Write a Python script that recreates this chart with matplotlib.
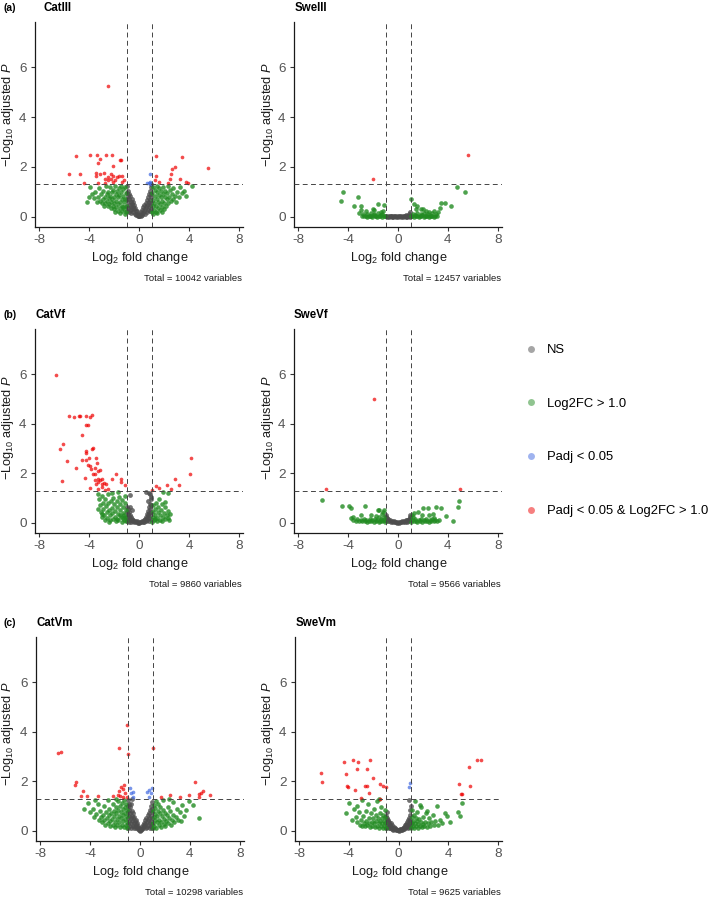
import numpy as np
import matplotlib
matplotlib.use('Agg')
import matplotlib.pyplot as plt
from matplotlib.lines import Line2D

plt.rcParams['font.family'] = 'Liberation Sans'
plt.rcParams['mathtext.fontset'] = 'custom'
plt.rcParams['mathtext.rm'] = 'Liberation Sans'
plt.rcParams['mathtext.it'] = 'Liberation Sans:italic'
plt.rcParams['axes.unicode_minus'] = False

# ---- data (log2 fold change, -log10 adjusted p) ----

# CatIII
catiii_ns = [(-0.98, 1.22), (-0.95, 0.95), (-0.97, 0.7), (-0.96, 0.45), (-0.94, 0.25), (-0.9, 1.05),
             (-0.88, 0.82), (-0.86, 0.58), (-0.85, 0.35), (-0.83, 0.18), (-0.8, 0.92), (-0.78, 0.7),
             (-0.75, 0.48), (-0.73, 0.28), (-0.7, 0.82), (-0.68, 0.6), (-0.65, 0.4), (-0.62, 0.16),
             (-0.6, 0.7), (-0.57, 0.5), (-0.55, 0.3), (-0.5, 0.58), (-0.48, 0.4), (-0.45, 0.2),
             (-0.42, 0.48), (-0.38, 0.3), (-0.35, 0.12), (-0.32, 0.36), (-0.28, 0.22), (-0.25, 0.08),
             (-0.2, 0.22), (-0.16, 0.1), (-0.12, 0.04), (-0.08, 0.08), (-0.04, 0.02),
             (0.02, 0.03), (0.06, 0.06), (0.1, 0.1), (0.14, 0.04), (0.18, 0.18), (0.22, 0.09),
             (0.26, 0.28), (0.3, 0.15), (0.34, 0.38), (0.38, 0.22), (0.42, 0.46), (0.46, 0.3),
             (0.5, 0.12), (0.53, 0.55), (0.56, 0.38), (0.6, 0.2), (0.62, 0.66), (0.66, 0.48),
             (0.7, 0.28), (0.72, 0.78), (0.76, 0.58), (0.79, 0.38), (0.82, 0.9), (0.84, 0.68),
             (0.87, 0.46), (0.89, 0.22), (0.91, 1.05), (0.93, 0.8), (0.95, 0.56), (0.97, 0.32),
             (0.98, 1.2), (0.96, 1.3), (0.99, 0.9)]
catiii_fc = [(-1.05, 0.2), (-1.08, 0.45), (-1.1, 0.7), (-1.06, 0.95), (-1.12, 1.2), (-1.2, 0.3),
             (-1.22, 0.58), (-1.25, 0.85), (-1.28, 1.1), (-1.35, 0.22), (-1.38, 0.45), (-1.4, 0.72),
             (-1.42, 0.98), (-1.45, 1.25), (-1.52, 0.35), (-1.55, 0.6), (-1.58, 0.88), (-1.6, 1.15),
             (-1.68, 0.25), (-1.7, 0.5), (-1.72, 0.78), (-1.75, 1.02), (-1.82, 0.4), (-1.85, 0.65),
             (-1.88, 0.92), (-1.9, 1.22), (-1.98, 0.3), (-2.0, 0.55), (-2.02, 0.8), (-2.05, 1.08),
             (-2.12, 0.45), (-2.15, 0.7), (-2.18, 0.98), (-2.25, 0.35), (-2.28, 0.6), (-2.3, 0.85),
             (-2.33, 1.18), (-2.4, 0.5), (-2.42, 0.75), (-2.45, 1.0), (-2.52, 0.42), (-2.55, 0.65),
             (-2.6, 0.9), (-2.62, 1.25), (-2.7, 0.55), (-2.72, 0.8), (-2.8, 0.45), (-2.85, 1.05),
             (-2.9, 0.7), (-3.0, 0.55), (-3.05, 0.9), (-3.15, 0.65), (-3.2, 1.15), (-3.3, 0.8),
             (-3.4, 0.6), (-3.5, 1.0), (-3.6, 0.75), (-3.75, 0.9), (-3.9, 1.2), (-4.0, 0.8),
             (-4.2, 0.6), (-1.15, 0.12), (-1.5, 0.15), (-1.9, 0.18), (-1.3, 0.4),
             (1.05, 0.18), (1.08, 0.42), (1.1, 0.68), (1.06, 0.95), (1.12, 1.2), (1.2, 0.28),
             (1.22, 0.55), (1.25, 0.82), (1.28, 1.08), (1.35, 0.2), (1.38, 0.45), (1.4, 0.7),
             (1.42, 0.98), (1.45, 1.25), (1.52, 0.35), (1.55, 0.6), (1.58, 0.88), (1.6, 1.15),
             (1.68, 0.28), (1.7, 0.5), (1.72, 0.78), (1.75, 1.02), (1.82, 0.4), (1.85, 0.65),
             (1.88, 0.92), (1.92, 1.2), (1.98, 0.3), (2.0, 0.55), (2.05, 0.8), (2.1, 1.05),
             (2.15, 0.45), (2.2, 0.7), (2.25, 0.95), (2.3, 1.25), (2.35, 0.55), (2.4, 0.8),
             (2.48, 1.08), (2.55, 0.62), (2.6, 0.9), (2.7, 0.7), (2.75, 1.15), (2.85, 0.85),
             (2.95, 0.6), (3.05, 1.0), (3.2, 0.8), (3.3, 1.2), (3.45, 0.95), (3.6, 1.05),
             (3.75, 0.85), (4.2, 1.22), (1.15, 0.1), (1.45, 0.14), (1.8, 0.2)]
catiii_p = [(0.9, 1.71), (0.64, 1.37), (0.78, 1.34), (0.92, 1.32), (0.85, 1.4)]
catiii_both = [(-2.51, 5.25), (-5.02, 2.44), (-3.9, 2.47), (-3.36, 2.47), (-2.62, 2.47), (-2.14, 2.47),
               (-3.09, 2.3), (-3.3, 2.14), (-1.54, 2.29), (-1.45, 2.29), (-2.08, 2.05), (-5.6, 1.73),
               (-4.7, 1.73), (-3.42, 1.76), (-3.42, 1.63), (-3.09, 1.72), (-2.82, 1.75), (-2.45, 1.6),
               (-2.24, 1.7), (-2.05, 1.62), (-1.8, 1.58), (-2.7, 1.5), (-2.5, 1.47), (-2.28, 1.53),
               (-1.9, 1.47), (-1.6, 1.64), (-1.33, 1.62), (-1.2, 1.48), (-4.4, 1.34), (-3.3, 1.34),
               (-2.75, 1.34), (-2.1, 1.4), (-1.4, 1.4),
               (1.34, 2.44), (3.42, 2.41), (2.88, 1.98), (2.61, 1.91), (2.56, 1.73), (5.5, 1.94),
               (1.39, 1.64), (1.28, 1.47), (1.6, 1.38), (2.5, 1.5), (3.3, 1.51), (3.73, 1.38),
               (3.9, 1.34), (2.3, 1.34)]

# SweIII
sweiii_ns = [(-0.98, 0.04), (-0.9, 0.01), (-0.82, 0.03), (-0.75, 0.0), (-0.68, 0.02), (-0.6, 0.04),
             (-0.52, 0.01), (-0.45, 0.03), (-0.38, 0.0), (-0.3, 0.02), (-0.22, 0.04), (-0.15, 0.01),
             (-0.08, 0.03), (0.0, 0.0), (0.08, 0.02), (0.15, 0.04), (0.22, 0.01), (0.3, 0.03),
             (0.38, 0.0), (0.45, 0.02), (0.52, 0.04), (0.6, 0.01), (0.68, 0.03), (0.75, 0.0),
             (0.82, 0.02), (0.9, 0.04), (0.97, 0.01), (0.88, 0.12), (0.95, 0.2), (0.6, 0.08)]
sweiii_fc = [(-1.05, 0.02), (-1.15, 0.05), (-1.25, 0.01), (-1.35, 0.06), (-1.45, 0.02), (-1.55, 0.04),
             (-1.65, 0.0), (-1.75, 0.05), (-1.85, 0.02), (-1.95, 0.06), (-2.05, 0.01), (-2.15, 0.04),
             (-2.25, 0.02), (-2.35, 0.05), (-2.45, 0.01), (-2.6, 0.03), (-2.75, 0.02), (-2.9, 0.04),
             (-1.3, 0.12), (-1.6, 0.14), (-1.9, 0.1), (-2.2, 0.16), (-2.5, 0.12), (-2.83, 0.13),
             (-2.6, 0.22), (-1.9, 0.27), (-2.0, 0.3), (-1.64, 0.51), (-1.16, 0.47), (-3.0, 0.44),
             (-3.49, 0.44), (-3.23, 0.78), (-4.42, 0.98), (-4.55, 0.63), (-1.4, 0.2), (-1.2, 0.25),
             (-3.0, 0.27), (-3.1, 0.15),
             (1.05, 0.02), (1.15, 0.05), (1.25, 0.01), (1.35, 0.06), (1.45, 0.02), (1.55, 0.04),
             (1.65, 0.0), (1.75, 0.05), (1.85, 0.02), (1.95, 0.06), (2.05, 0.01), (2.15, 0.04),
             (2.25, 0.02), (2.35, 0.05), (2.45, 0.01), (2.55, 0.04), (2.65, 0.02), (2.75, 0.05),
             (2.85, 0.01), (2.95, 0.03), (3.1, 0.02), (1.2, 0.12), (1.5, 0.15), (1.8, 0.1),
             (2.1, 0.14), (2.4, 0.12), (2.7, 0.16), (3.0, 0.12), (1.27, 0.51), (1.55, 0.42),
             (1.8, 0.3), (2.2, 0.22), (2.5, 0.2), (2.9, 0.25), (3.2, 0.2), (3.33, 0.37),
             (3.47, 0.56), (3.78, 0.56), (4.23, 0.43), (4.7, 1.18), (5.36, 0.98), (1.02, 0.72),
             (1.4, 0.3), (2.0, 0.3)]
sweiii_p = []
sweiii_both = [(-2.01, 1.51), (5.58, 2.48)]

# CatVf
catvf_ns = [(-0.98, 0.65), (-0.96, 0.45), (-0.97, 0.25), (-0.95, 0.08), (-0.9, 0.55), (-0.88, 0.35),
            (-0.86, 0.15), (-0.82, 0.42), (-0.8, 0.22), (-0.78, 0.05), (-0.74, 0.3), (-0.7, 0.12),
            (-0.66, 0.22), (-0.62, 0.04), (-0.58, 0.15), (-0.52, 0.08), (-0.46, 0.12), (-0.4, 0.03),
            (-0.33, 0.08), (-0.26, 0.02), (-0.2, 0.06), (-0.12, 0.01), (-0.05, 0.04), (0.03, 0.01),
            (0.1, 0.05), (0.17, 0.02), (0.24, 0.07), (0.3, 0.03), (0.36, 0.1), (0.42, 0.05),
            (0.47, 0.16), (0.52, 0.08), (0.56, 0.25), (0.6, 0.12), (0.64, 0.35), (0.67, 0.2),
            (0.7, 0.48), (0.73, 0.3), (0.76, 0.08), (0.78, 0.62), (0.8, 0.4), (0.83, 0.18),
            (0.85, 0.78), (0.87, 0.55), (0.9, 0.3), (0.92, 0.95), (0.94, 0.7), (0.96, 0.45),
            (0.97, 0.15), (0.98, 1.05), (0.9, 1.15), (0.75, 0.9), (0.8, 1.22), (0.56, 1.23),
            (-0.72, 1.12), (-0.6, 0.5), (-0.75, 0.62)]
catvf_fc = [(-1.05, 0.06), (-1.1, 0.25), (-1.08, 0.5), (-1.12, 0.8), (-1.15, 1.1), (-1.22, 0.12),
            (-1.25, 0.38), (-1.3, 0.65), (-1.35, 0.92), (-1.4, 0.05), (-1.45, 0.22), (-1.5, 0.5),
            (-1.55, 0.78), (-1.6, 1.05), (-1.65, 0.12), (-1.7, 0.35), (-1.75, 0.62), (-1.8, 0.9),
            (-1.85, 0.08), (-1.9, 0.25), (-1.95, 0.48), (-2.0, 0.75), (-2.05, 1.02), (-2.1, 0.15),
            (-2.15, 0.38), (-2.2, 0.6), (-2.25, 0.88), (-2.3, 0.1), (-2.35, 0.3), (-2.4, 0.52),
            (-2.45, 0.8), (-2.5, 1.15), (-2.55, 0.2), (-2.6, 0.42), (-2.65, 0.68), (-2.7, 0.95),
            (-2.75, 0.12), (-2.8, 0.3), (-2.85, 0.55), (-2.9, 0.82), (-2.95, 1.1), (-3.0, 0.22),
            (-3.05, 0.45), (-3.1, 0.7), (-3.2, 0.95), (-3.3, 1.16), (-3.25, 0.55), (-3.0, 0.36),
            (-2.2, 1.22), (-1.7, 1.25), (-1.2, 0.3), (-1.5, 0.3), (-1.8, 0.15), (-2.4, 0.05),
            (-1.3, 0.2),
            (1.05, 0.05), (1.1, 0.22), (1.08, 0.45), (1.12, 0.7), (1.2, 0.1), (1.25, 0.32),
            (1.3, 0.55), (1.35, 0.8), (1.4, 0.06), (1.45, 0.2), (1.5, 0.42), (1.55, 0.65),
            (1.65, 0.12), (1.7, 0.3), (1.75, 0.52), (1.8, 0.78), (1.85, 0.08), (1.9, 0.22),
            (1.98, 0.4), (2.05, 0.62), (2.1, 0.15), (2.2, 0.3), (2.28, 0.49), (2.35, 0.2),
            (2.44, 0.35), (2.4, 0.1), (1.89, 1.23), (2.31, 1.19), (1.6, 0.95), (2.1, 0.85),
            (1.3, 0.15)]
catvf_p = []
catvf_both = [(-6.67, 5.97), (-5.61, 4.32), (-5.24, 4.27), (-4.81, 4.29), (-4.76, 4.32), (-4.23, 4.33),
              (-3.96, 4.27), (-3.75, 4.36), (-4.28, 3.94), (-4.07, 3.94), (-4.54, 3.56), (-6.09, 3.2),
              (-6.3, 2.96), (-5.77, 2.5), (-5.07, 2.2), (-4.28, 2.9), (-4.23, 2.82), (-3.8, 2.96),
              (-3.69, 3.0), (-4.6, 2.54), (-4.23, 2.55), (-4.02, 2.6), (-3.44, 2.6), (-3.38, 2.43),
              (-4.12, 2.34), (-3.96, 2.31), (-3.53, 2.23), (-3.85, 2.18), (-3.27, 2.1), (-3.11, 2.12),
              (-3.69, 1.98), (-3.5, 1.98), (-4.33, 1.8), (-3.32, 1.78), (-3.53, 1.73), (-3.16, 1.73),
              (-2.95, 1.75), (-2.79, 1.6), (-3.0, 1.58), (-3.27, 1.65), (-3.48, 1.58), (-2.68, 1.58),
              (-2.15, 1.75), (-1.83, 1.97), (-1.41, 1.75), (-1.41, 1.65), (-3.96, 1.39), (-3.27, 1.35),
              (-3.0, 1.43), (-2.75, 1.33), (-2.52, 1.37), (-6.2, 1.7), (-1.09, 1.53),
              (1.05, 1.32), (1.36, 1.49), (1.57, 1.4), (2.2, 1.53), (2.52, 1.38), (2.84, 1.76),
              (3.21, 1.53), (4.17, 2.6), (4.06, 1.98)]

# SweVf
swevf_ns = [(-0.98, 0.25), (-0.95, 0.12), (-0.9, 0.2), (-0.86, 0.08), (-0.8, 0.15), (-0.74, 0.06),
            (-0.68, 0.12), (-0.6, 0.04), (-0.52, 0.09), (-0.44, 0.03), (-0.36, 0.07), (-0.28, 0.02),
            (-0.2, 0.05), (-0.12, 0.01), (-0.04, 0.04), (0.04, 0.01), (0.12, 0.05), (0.2, 0.02),
            (0.28, 0.06), (0.36, 0.03), (0.44, 0.08), (0.52, 0.04), (0.6, 0.1), (0.68, 0.05),
            (0.74, 0.13), (0.8, 0.07), (0.86, 0.17), (0.9, 0.1), (0.95, 0.22), (0.98, 0.14),
            (-0.97, 0.33), (0.97, 0.3)]
swevf_fc = [(-1.05, 0.05), (-1.15, 0.12), (-1.25, 0.06), (-1.35, 0.15), (-1.45, 0.08), (-1.55, 0.04),
            (-1.65, 0.13), (-1.75, 0.07), (-1.85, 0.16), (-1.95, 0.05), (-2.05, 0.1), (-2.15, 0.06),
            (-2.25, 0.14), (-2.35, 0.08), (-2.45, 0.05), (-2.55, 0.12), (-2.65, 0.07), (-2.75, 0.15),
            (-2.85, 0.06), (-2.95, 0.1), (-3.1, 0.08), (-3.25, 0.14), (-3.4, 0.07), (-3.6, 0.12),
            (-3.8, 0.2), (-1.1, 0.25), (-1.3, 0.35), (-1.5, 0.22), (-1.2, 0.42), (-1.64, 0.52),
            (-1.5, 0.5), (-1.15, 0.5), (-1.8, 0.28), (-2.2, 0.3), (-2.65, 0.66), (-3.0, 0.3),
            (-3.76, 0.61), (-3.9, 0.66), (-4.47, 0.66), (-6.06, 0.92), (-3.6, 0.25), (-1.3, 0.1),
            (1.05, 0.05), (1.15, 0.12), (1.25, 0.06), (1.35, 0.15), (1.45, 0.08), (1.55, 0.04),
            (1.65, 0.13), (1.75, 0.07), (1.85, 0.16), (1.95, 0.05), (2.05, 0.1), (2.15, 0.06),
            (2.25, 0.14), (2.35, 0.08), (2.45, 0.05), (2.55, 0.12), (2.65, 0.07), (2.75, 0.15),
            (2.85, 0.06), (2.95, 0.1), (3.1, 0.08), (3.25, 0.12), (1.1, 0.3), (1.3, 0.4),
            (1.6, 0.42), (1.2, 0.22), (1.9, 0.3), (2.38, 0.61), (2.0, 0.6), (2.5, 0.3),
            (2.8, 0.35), (3.07, 0.63), (3.47, 0.6), (3.84, 0.27), (4.39, 0.07), (4.79, 0.63),
            (4.84, 0.9), (2.9, 0.2)]
swevf_p = []
swevf_both = [(-1.96, 5.0), (-5.74, 1.36), (4.92, 1.36)]

# CatVm
catvm_ns = [(-0.98, 1.25), (-0.96, 1.0), (-0.97, 0.75), (-0.95, 0.5), (-0.96, 0.28), (-0.94, 0.12),
            (-0.9, 1.1), (-0.88, 0.85), (-0.87, 0.6), (-0.85, 0.38), (-0.83, 0.18), (-0.79, 0.95),
            (-0.77, 0.72), (-0.75, 0.5), (-0.72, 0.3), (-0.7, 0.12), (-0.68, 0.82), (-0.65, 0.6),
            (-0.62, 0.4), (-0.6, 0.2), (-0.57, 0.7), (-0.54, 0.5), (-0.52, 0.3), (-0.48, 0.12),
            (-0.46, 0.56), (-0.43, 0.38), (-0.4, 0.2), (-0.36, 0.44), (-0.33, 0.27), (-0.3, 0.1),
            (-0.26, 0.3), (-0.22, 0.16), (-0.18, 0.2), (-0.14, 0.06), (-0.1, 0.1), (-0.06, 0.03),
            (-0.02, 0.01), (0.03, 0.02), (0.07, 0.08), (0.11, 0.04), (0.15, 0.15), (0.19, 0.07),
            (0.23, 0.24), (0.27, 0.12), (0.31, 0.33), (0.35, 0.18), (0.39, 0.42), (0.43, 0.26),
            (0.47, 0.1), (0.5, 0.52), (0.53, 0.34), (0.57, 0.16), (0.6, 0.62), (0.63, 0.42),
            (0.66, 0.22), (0.7, 0.72), (0.73, 0.5), (0.76, 0.3), (0.79, 0.12), (0.81, 0.85),
            (0.84, 0.6), (0.86, 0.38), (0.88, 0.18), (0.91, 1.0), (0.93, 0.75), (0.95, 0.5),
            (0.96, 0.28), (0.98, 1.15), (0.97, 0.9), (0.99, 0.12), (-0.75, 1.1), (-0.65, 1.3)]
catvm_fc = [(-1.04, 0.12), (-1.06, 0.35), (-1.08, 0.6), (-1.05, 0.85), (-1.1, 1.1), (-1.15, 0.22),
            (-1.18, 0.48), (-1.2, 0.72), (-1.22, 0.98), (-1.25, 1.25), (-1.3, 0.15), (-1.33, 0.38),
            (-1.36, 0.62), (-1.4, 0.88), (-1.45, 1.12), (-1.48, 0.25), (-1.52, 0.5), (-1.55, 0.75),
            (-1.6, 1.0), (-1.62, 0.14), (-1.66, 0.36), (-1.7, 0.6), (-1.75, 0.85), (-1.8, 1.2),
            (-1.82, 0.22), (-1.86, 0.46), (-1.9, 0.7), (-1.95, 0.95), (-2.0, 0.15), (-2.04, 0.35),
            (-2.08, 0.58), (-2.12, 0.82), (-2.18, 1.1), (-2.2, 0.25), (-2.25, 0.48), (-2.3, 0.7),
            (-2.38, 0.2), (-2.42, 0.4), (-2.48, 0.62), (-2.52, 0.9), (-2.58, 0.3), (-2.65, 0.52),
            (-2.7, 0.78), (-2.78, 0.25), (-2.85, 0.45), (-2.9, 1.0), (-2.95, 0.65), (-3.05, 0.35),
            (-3.12, 0.55), (-3.2, 0.82), (-3.3, 0.45), (-3.4, 1.1), (-3.5, 0.68), (-3.65, 0.55),
            (-3.8, 0.9), (-4.0, 0.75), (-4.2, 1.12), (-4.47, 0.87), (-3.6, 1.25), (-2.6, 1.25),
            (-1.95, 1.28),
            (1.04, 0.1), (1.06, 0.32), (1.08, 0.55), (1.05, 0.8), (1.1, 1.05), (1.15, 0.2),
            (1.18, 0.45), (1.2, 0.68), (1.23, 0.92), (1.26, 1.2), (1.3, 0.12), (1.33, 0.35),
            (1.36, 0.58), (1.4, 0.82), (1.46, 1.08), (1.5, 0.22), (1.53, 0.45), (1.57, 0.7),
            (1.62, 0.95), (1.66, 0.15), (1.7, 0.36), (1.74, 0.6), (1.8, 0.85), (1.85, 1.25),
            (1.88, 0.26), (1.92, 0.48), (1.97, 0.72), (2.02, 0.18), (2.07, 0.4), (2.12, 0.62),
            (2.2, 0.95), (2.25, 0.3), (2.3, 0.52), (2.4, 0.8), (2.45, 0.22), (2.52, 0.45),
            (2.6, 1.15), (2.65, 0.62), (2.72, 0.35), (2.85, 0.55), (2.95, 0.9), (3.05, 0.45),
            (3.2, 0.75), (3.35, 1.05), (3.5, 0.6), (3.7, 0.85), (3.9, 1.2), (4.2, 1.05),
            (4.7, 0.5), (3.3, 0.4), (2.3, 1.3)]
catvm_p = [(-0.81, 1.71), (-0.73, 1.51), (-0.55, 1.58), (-0.6, 1.35), (0.55, 1.58), (0.74, 1.65),
           (0.92, 1.74), (0.9, 1.54), (0.69, 1.35)]
catvm_both = [(-6.6, 3.15), (-6.3, 3.17), (-1.72, 3.35), (-1.08, 4.25), (-0.98, 3.12), (1.05, 3.33),
              (-5.09, 1.97), (-5.2, 1.85), (-4.6, 1.62), (-4.74, 1.41), (-4.21, 1.41), (-3.4, 1.41),
              (-2.15, 1.41), (-1.8, 1.45), (-1.67, 1.6), (-1.51, 1.78), (-1.35, 1.67), (-1.27, 1.83),
              (-1.19, 1.51), (-1.08, 1.35), (-1.4, 1.35), (-1.6, 1.42),
              (2.39, 1.43), (3.19, 1.35), (3.94, 1.43), (4.42, 1.97), (4.74, 1.48), (4.88, 1.53),
              (5.0, 1.6), (5.59, 1.43), (4.74, 1.37), (1.67, 1.35)]

# SweVm
swevm_ns = [(-0.98, 0.6), (-0.96, 0.42), (-0.95, 0.26), (-0.97, 0.12), (-0.9, 0.5), (-0.88, 0.34),
            (-0.86, 0.18), (-0.82, 0.44), (-0.8, 0.28), (-0.78, 0.12), (-0.74, 0.36), (-0.71, 0.22),
            (-0.68, 0.1), (-0.64, 0.3), (-0.6, 0.17), (-0.56, 0.08), (-0.52, 0.22), (-0.48, 0.12),
            (-0.43, 0.05), (-0.39, 0.15), (-0.34, 0.07), (-0.29, 0.1), (-0.24, 0.03), (-0.19, 0.06),
            (-0.13, 0.02), (-0.07, 0.04), (0.0, 0.01), (0.06, 0.03), (0.12, 0.06), (0.18, 0.02),
            (0.23, 0.08), (0.28, 0.04), (0.33, 0.12), (0.38, 0.06), (0.42, 0.16), (0.47, 0.09),
            (0.52, 0.22), (0.56, 0.12), (0.6, 0.28), (0.64, 0.16), (0.68, 0.35), (0.72, 0.22),
            (0.75, 0.1), (0.78, 0.42), (0.81, 0.28), (0.84, 0.14), (0.87, 0.52), (0.9, 0.36),
            (0.92, 0.2), (0.95, 0.65), (0.96, 0.45), (0.98, 0.28), (0.92, 0.85), (0.88, 1.25),
            (0.97, 1.0), (-0.92, 0.75)]
swevm_fc = [(-1.04, 0.1), (-1.07, 0.3), (-1.05, 0.55), (-1.1, 0.85), (-1.14, 0.18), (-1.18, 0.4),
            (-1.22, 0.65), (-1.26, 0.12), (-1.3, 0.3), (-1.35, 0.52), (-1.38, 0.95), (-1.42, 0.2),
            (-1.47, 0.4), (-1.52, 0.7), (-1.56, 0.13), (-1.6, 0.3), (-1.66, 0.5), (-1.7, 1.2),
            (-1.72, 0.2), (-1.78, 0.38), (-1.84, 0.62), (-1.9, 0.14), (-1.95, 0.3), (-2.0, 0.9),
            (-2.05, 0.5), (-2.1, 0.2), (-2.16, 0.36), (-2.22, 0.7), (-2.28, 0.15), (-2.34, 0.3),
            (-2.4, 0.52), (-2.46, 1.1), (-2.5, 0.22), (-2.58, 0.4), (-2.65, 0.8), (-2.7, 0.18),
            (-2.78, 0.32), (-2.85, 0.6), (-2.92, 0.2), (-3.0, 0.42), (-3.1, 0.25), (-3.2, 0.75),
            (-3.3, 0.35), (-3.45, 0.55), (-3.57, 0.9), (-3.7, 0.45), (-3.97, 1.14), (-4.2, 0.7),
            (-2.9, 1.25), (-1.55, 1.3), (-3.3, 1.0),
            (1.04, 0.1), (1.07, 0.3), (1.05, 0.55), (1.1, 0.85), (1.14, 0.18), (1.18, 0.4),
            (1.22, 0.65), (1.26, 0.12), (1.3, 0.3), (1.35, 1.2), (1.38, 0.5), (1.42, 0.2),
            (1.47, 0.38), (1.52, 0.75), (1.56, 0.13), (1.6, 0.28), (1.66, 0.48), (1.72, 0.18),
            (1.78, 0.35), (1.84, 0.95), (1.9, 0.14), (1.95, 0.28), (2.0, 0.55), (2.06, 0.2),
            (2.12, 0.35), (2.2, 0.7), (2.28, 0.8), (2.3, 0.15), (2.38, 0.3), (2.45, 0.5),
            (2.55, 0.2), (2.65, 0.35), (2.75, 0.62), (2.85, 0.25), (2.95, 0.4), (3.08, 1.0),
            (3.15, 0.22), (3.3, 0.45), (3.5, 0.3), (3.7, 0.7), (3.88, 0.58), (4.1, 0.35),
            (4.75, 0.76), (5.13, 1.11), (4.95, 0.6), (1.7, 1.05)]
swevm_p = [(0.89, 1.92), (0.84, 1.76)]
swevm_both = [(-6.22, 2.32), (-6.17, 1.97), (-4.42, 2.77), (-3.67, 2.85), (-3.24, 2.77), (-2.29, 2.85),
              (-3.3, 2.48), (-4.2, 2.29), (-2.55, 2.48), (-2.02, 2.12), (-4.1, 1.81), (-4.05, 1.77),
              (-3.5, 1.65), (-2.7, 1.79), (-2.55, 1.79), (-2.36, 1.51), (-3.0, 1.31), (-1.49, 1.89),
              (-1.28, 1.8), (-1.04, 1.78), (-1.45, 1.27),
              (4.86, 1.9), (5.1, 1.49), (5.03, 1.49), (5.65, 2.56), (5.77, 1.81), (6.33, 2.85),
              (6.63, 2.85)]

totals = [10042, 12457, 9860, 9566, 10298, 9625]
names = ['CatIII', 'SweIII', 'CatVf', 'SweVf', 'CatVm', 'SweVm']
tags = ['(a)', '', '(b)', '', '(c)', '']
legend_labels = ['NS', 'Log2FC > 1.0', 'Padj < 0.05', 'Padj < 0.05 & Log2FC > 1.0']
colours = ['#4D4D4D', '#228B22', '#4169E1', '#EE0000']

FC_CUT = 1.0
P_CUT = 0.05

# ---- figure ----
W, H = 709, 898
fig = plt.figure(figsize=(W / 100, H / 100), dpi=100)


def fx(px):
    return px / W


def fy(py):
    return 1 - py / H


# panel boxes in pixels: left, top, right, bottom
boxes = [(35, 22, 243, 227), (294, 22, 502, 227),
         (35, 329, 243, 533), (294, 329, 502, 533),
         (36, 637, 244, 841), (295, 637, 502, 841)]
title_x = [43.5, 295, 36, 294, 36.5, 296]
ylab_y = [115, 115, 428, 428, 734, 734]

panels = [(catiii_ns, catiii_fc, catiii_p, catiii_both),
          (sweiii_ns, sweiii_fc, sweiii_p, sweiii_both),
          (catvf_ns, catvf_fc, catvf_p, catvf_both),
          (swevf_ns, swevf_fc, swevf_p, swevf_both),
          (catvm_ns, catvm_fc, catvm_p, catvm_both),
          (swevm_ns, swevm_fc, swevm_p, swevm_both)]
# the big NS / fold-change clouds get slightly bigger, denser dots so they read as masses
sizes = [12, 11, 7, 7]
alphas = [0.8, 0.8, 0.7, 0.7]

for i, groups in enumerate(panels):
    l, t, r, b = boxes[i]
    ax = fig.add_axes([fx(l), fy(b), (r - l) / W, (b - t) / H])
    for pts, col, sz, al in zip(groups, colours, sizes, alphas):
        if len(pts) == 0:
            continue
        arr = np.array(pts)
        ax.scatter(arr[:, 0], arr[:, 1], s=sz, color=col, alpha=al, linewidths=0, zorder=2)

    # cutoff lines
    for xv in (-FC_CUT, FC_CUT):
        ax.axvline(xv, color='#444444', lw=0.7, ls=(0, (5, 3.5)), zorder=3)
    ax.axhline(-np.log10(P_CUT), color='#444444', lw=0.7, ls=(0, (5, 3.5)), zorder=3)

    ax.set_xlim(-8.32, 8.32)
    ax.set_ylim(-0.41, 7.82)
    ax.set_xticks([-8, -4, 0, 4, 8])
    ax.set_yticks([0, 2, 4, 6])
    for side in ('top', 'right'):
        ax.spines[side].set_visible(False)
    for side in ('left', 'bottom'):
        ax.spines[side].set_color('#1a1a1a')
        ax.spines[side].set_linewidth(0.9)
    ax.tick_params(axis='both', length=3, width=0.8, color='#333333',
                   labelsize=9.7, labelcolor='#555555')
    ax.tick_params(axis='x', pad=2)
    ax.tick_params(axis='y', pad=3)

    cx = (l + r) / 2 + 1
    fig.text(fx(cx), fy(b + 33.5), r'$\mathrm{Log}_{2}$ fold change', ha='center',
             va='baseline', fontsize=9.2, color='#1a1a1a')
    ylx = 8.5 if l < 100 else 268.5
    fig.text(fx(ylx), fy(ylab_y[i]), r'$-\mathrm{Log}_{10}$ adjusted $\mathit{P}$', rotation=90,
             ha='center', va='center', fontsize=9.2, color='#1a1a1a')
    fig.text(fx(title_x[i]), fy(t - 11.3), names[i], ha='left', va='baseline',
             fontsize=8.3, fontweight='bold')
    if tags[i]:
        fig.text(fx(3), fy(t - 11.3), tags[i], ha='left', va='baseline',
                 fontsize=7.5, fontweight='bold')
    fig.text(fx(r - 1), fy(b + 54), f'Total = {totals[i]} variables', ha='right',
             va='baseline', fontsize=6.8, color='#1a1a1a')

handles = [Line2D([], [], ls='none', marker='o', markersize=5, color=c, alpha=0.5,
                  markeredgewidth=0) for c in colours]
fig.legend(handles, legend_labels, loc='upper left', bbox_to_anchor=(fx(524.5), fy(344)),
           frameon=False, fontsize=9.4, labelspacing=3.18, handlelength=1.0,
           handletextpad=0.73, borderpad=0, borderaxespad=0)

fig.savefig('out.png', dpi=100)
